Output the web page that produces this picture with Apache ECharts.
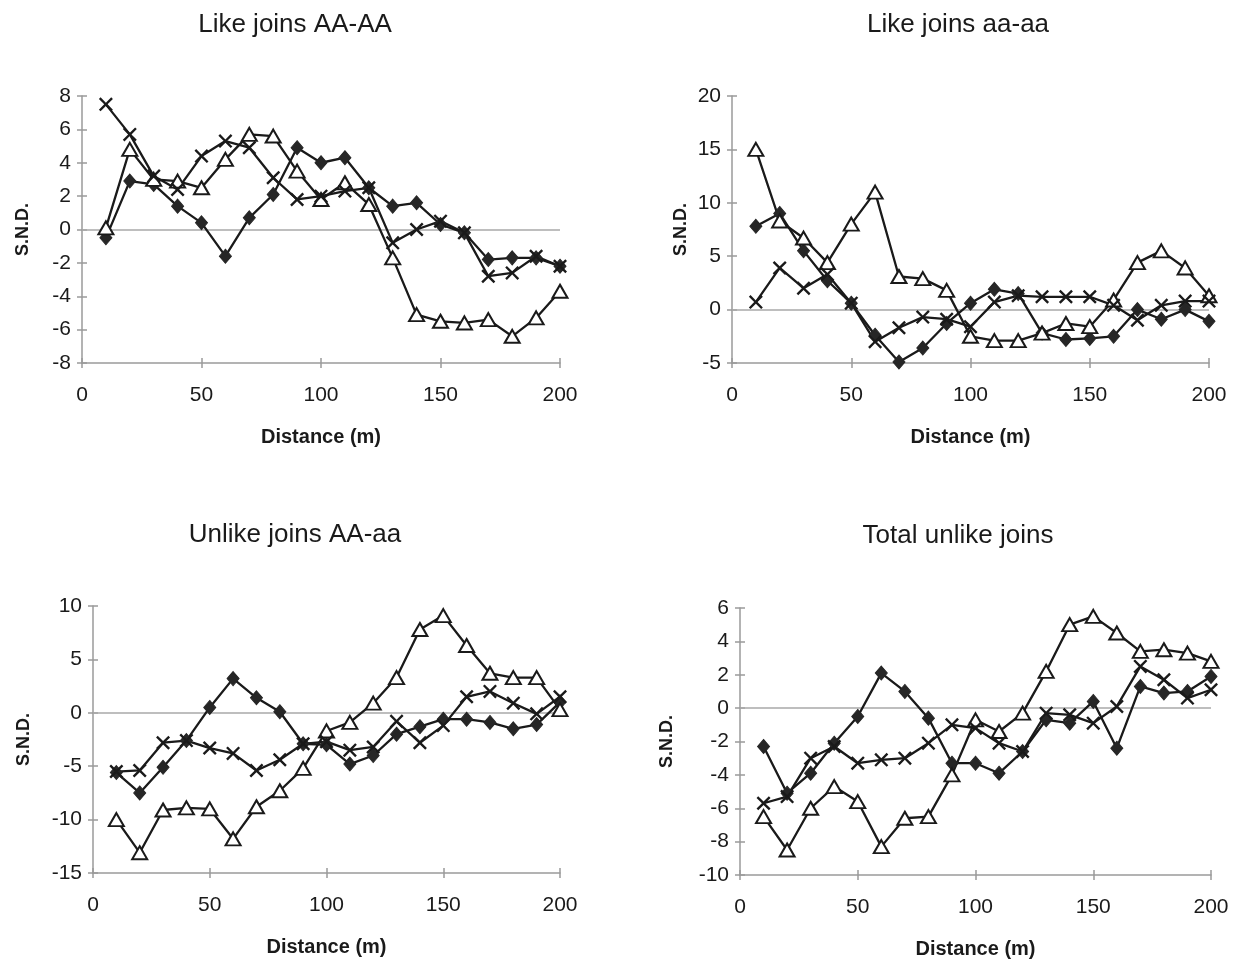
<!DOCTYPE html>
<html>
<head>
<meta charset="utf-8">
<style>
  html, body { margin: 0; padding: 0; background: #fff; }
  #chart { width: 1246px; height: 964px; }
</style>
<script src="https://cdn.jsdelivr.net/npm/echarts@6/dist/echarts.min.js"></script>
</head>
<body>
<div id="chart"></div>
<script>
// Distance classes (m)
const distance = [10, 20, 30, 40, 50, 60, 70, 80, 90, 100, 110, 120, 130, 140, 150, 160, 170, 180, 190, 200];

// Like joins AA-AA
const likeAA_diamond  = [-0.5, 2.9, 2.7, 1.4, 0.4, -1.6, 0.7, 2.1, 4.9, 4.0, 4.3, 2.5, 1.4, 1.6, 0.3, -0.2, -1.8, -1.7, -1.7, -2.2];
const likeAA_triangle = [0.1, 4.8, 3.0, 2.9, 2.5, 4.2, 5.7, 5.6, 3.5, 1.8, 2.8, 1.5, -1.7, -5.1, -5.5, -5.6, -5.4, -6.4, -5.3, -3.7];
const likeAA_cross    = [7.5, 5.7, 3.2, 2.4, 4.4, 5.3, 4.9, 3.1, 1.8, 2.0, 2.3, 2.5, -0.8, 0.0, 0.5, -0.2, -2.8, -2.6, -1.6, -2.2];

// Like joins aa-aa
const likeaa_diamond  = [7.8, 9.0, 5.5, 2.7, 0.6, -2.4, -4.9, -3.6, -1.3, 0.6, 1.9, 1.5, -2.2, -2.8, -2.7, -2.5, 0.0, -0.9, 0.0, -1.1];
const likeaa_triangle = [15.0, 8.3, 6.7, 4.4, 8.0, 11.0, 3.1, 2.9, 1.8, -2.5, -2.9, -2.9, -2.2, -1.3, -1.6, 0.9, 4.4, 5.5, 3.9, 1.3];
const likeaa_cross    = [0.7, 3.9, 2.0, 3.3, 0.6, -3.0, -1.7, -0.7, -0.9, -1.6, 0.7, 1.3, 1.2, 1.2, 1.2, 0.4, -1.0, 0.4, 0.8, 0.8];

// Unlike joins AA-aa
const unlike_diamond  = [-5.6, -7.5, -5.1, -2.6, 0.5, 3.2, 1.4, 0.1, -2.9, -3.0, -4.8, -4.0, -2.0, -1.3, -0.6, -0.6, -0.9, -1.5, -1.1, 1.0];
const unlike_triangle = [-10.0, -13.1, -9.1, -8.9, -9.0, -11.8, -8.8, -7.3, -5.2, -1.7, -0.9, 0.9, 3.3, 7.8, 9.1, 6.3, 3.7, 3.3, 3.3, 0.3];
const unlike_cross    = [-5.5, -5.4, -2.8, -2.6, -3.3, -3.8, -5.4, -4.4, -2.9, -2.7, -3.5, -3.2, -0.8, -2.8, -1.2, 1.5, 2.0, 0.9, -0.1, 1.5];

// Total unlike joins
const total_diamond  = [-2.3, -5.1, -3.9, -2.1, -0.5, 2.1, 1.0, -0.6, -3.3, -3.3, -3.9, -2.6, -0.7, -0.9, 0.4, -2.4, 1.3, 0.9, 1.0, 1.9];
const total_triangle = [-6.5, -8.5, -6.0, -4.7, -5.6, -8.3, -6.6, -6.5, -4.0, -0.7, -1.4, -0.3, 2.2, 5.0, 5.5, 4.5, 3.4, 3.5, 3.3, 2.8];
const total_cross    = [-5.7, -5.3, -3.0, -2.3, -3.3, -3.1, -3.0, -2.1, -1.0, -1.2, -2.1, -2.6, -0.3, -0.4, -0.9, 0.1, 2.5, 1.7, 0.6, 1.1];

// Panel titles and y ranges
const panelTitles = ['Like joins AA-AA', 'Like joins aa-aa', 'Unlike joins AA-aa', 'Total unlike joins'];
const yRanges = [[-8, 8, 2], [-5, 20, 5], [-15, 10, 5], [-10, 6, 2]];
const xRange = [0, 200, 50];
const xName = 'Distance (m)';
const yName = 'S.N.D.';

const panels = [
  [likeAA_diamond, likeAA_triangle, likeAA_cross],
  [likeaa_diamond, likeaa_triangle, likeaa_cross],
  [unlike_diamond, unlike_triangle, unlike_cross],
  [total_diamond, total_triangle, total_cross]
];

const FONT = '"Liberation Sans", Arial, sans-serif';
const INK = '#1a1a1a';
const AXIS = '#9a9a9a';

// Plot areas
const grids = [
  { left: 82,  top: 96,  width: 478, height: 267 },
  { left: 732, top: 96,  width: 477, height: 267 },
  { left: 93,  top: 606, width: 467, height: 267 },
  { left: 740, top: 608, width: 471, height: 267 }
];
const titlePos = [[290, 7], [953, 7], [290, 517], [953, 518]];
const yNameGap = [50, 42, 60, 64];

// Filled "X" outline used as the cross marker
const crossPath = 'path://M0,1.2L1.2,0L5,3.8L8.8,0L10,1.2L6.2,5L10,8.8L8.8,10L5,6.2L1.2,10L0,8.8L3.8,5Z';

const xAxes = [], yAxes = [], series = [], titles = [];

grids.forEach((g, i) => {
  const [ymin, ymax, yint] = yRanges[i];
  // main axes: line, labels, outer half of the ticks
  xAxes.push({
    type: 'value', gridIndex: i, min: xRange[0], max: xRange[1], interval: xRange[2],
    axisLine: { onZero: false, lineStyle: { color: AXIS, width: 1.5 } },
    axisTick: { show: true, inside: false, length: 5, lineStyle: { color: AXIS, width: 1.5 } },
    splitLine: { show: false },
    axisLabel: { color: INK, fontSize: 21, fontFamily: FONT, margin: 22 },
    name: xName, nameLocation: 'middle', nameGap: 64,
    nameTextStyle: { color: INK, fontSize: 20, fontWeight: 'bold', fontFamily: FONT }
  });
  yAxes.push({
    type: 'value', gridIndex: i, min: ymin, max: ymax, interval: yint,
    axisLine: { show: true, onZero: false, lineStyle: { color: AXIS, width: 1.5 } },
    axisTick: { show: true, inside: false, length: 5, lineStyle: { color: AXIS, width: 1.5 } },
    splitLine: { show: false },
    axisLabel: { color: INK, fontSize: 21, fontFamily: FONT, margin: 11 },
    name: yName, nameLocation: 'middle', nameGap: yNameGap[i], nameRotate: 90,
    nameTextStyle: { color: INK, fontSize: 18, fontWeight: 'bold', fontFamily: FONT }
  });
  // companion axes: inner half of the ticks so they cross the axis line
  xAxes.push({
    type: 'value', gridIndex: i, min: xRange[0], max: xRange[1], interval: xRange[2], position: 'bottom',
    axisLine: { show: false, onZero: false }, axisLabel: { show: false }, splitLine: { show: false },
    axisTick: { show: true, inside: true, length: 5, lineStyle: { color: AXIS, width: 1.5 } }
  });
  yAxes.push({
    type: 'value', gridIndex: i, min: ymin, max: ymax, interval: yint, position: 'left',
    axisLine: { show: false, onZero: false }, axisLabel: { show: false }, splitLine: { show: false },
    axisTick: { show: true, inside: true, length: 5, lineStyle: { color: AXIS, width: 1.5 } }
  });

  titles.push({
    text: panelTitles[i], left: titlePos[i][0], top: titlePos[i][1], textAlign: 'center',
    textStyle: { color: INK, fontSize: 26, fontWeight: 'normal', fontFamily: FONT }
  });

  const [dia, tri, crs] = panels[i];
  const base = {
    type: 'line', xAxisIndex: 2 * i, yAxisIndex: 2 * i,
    lineStyle: { color: INK, width: 2.3 }, animation: false, z: 3
  };
  series.push(Object.assign({}, base, {
    name: 'diamond',
    data: distance.map((d, k) => [d, dia[k]]),
    symbol: 'diamond', symbolSize: [12, 14],
    itemStyle: { color: '#262626', borderColor: '#262626', borderWidth: 1 },
    markLine: {
      silent: true, symbol: 'none', label: { show: false },
      lineStyle: { color: '#a8a8a8', width: 1.5, type: 'solid' },
      data: [{ yAxis: 0 }], z: 1
    }
  }));
  series.push(Object.assign({}, base, {
    name: 'triangle',
    data: distance.map((d, k) => [d, tri[k]]),
    symbol: 'triangle', symbolSize: [15, 13],
    itemStyle: { color: '#ffffff', borderColor: INK, borderWidth: 2 }
  }));
  series.push(Object.assign({}, base, {
    name: 'cross',
    data: distance.map((d, k) => [d, crs[k]]),
    symbol: crossPath, symbolSize: 14,
    itemStyle: { color: INK, borderColor: INK, borderWidth: 0 }
  }));
});

const chart = echarts.init(document.getElementById('chart'), null, { renderer: 'canvas' });
chart.setOption({
  backgroundColor: '#ffffff',
  animation: false,
  title: titles,
  grid: grids,
  xAxis: xAxes,
  yAxis: yAxes,
  series: series
});
</script>
</body>
</html>
